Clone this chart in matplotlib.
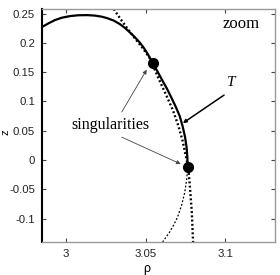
import numpy as np
import matplotlib
matplotlib.use("Agg")
import matplotlib.pyplot as plt

# solid curve
rho_solid = [2.9850, 2.9888, 2.9931, 2.9975, 3.0025, 3.0075, 3.0131, 3.0181,
             3.0225, 3.0263, 3.0300, 3.0338, 3.0370, 3.0400, 3.0431, 3.0463,
             3.0488, 3.0515, 3.0544, 3.0570, 3.0600, 3.0631, 3.0660, 3.0688,
             3.0713, 3.0731, 3.0746, 3.0756, 3.0761, 3.0763]
z_solid = [0.2270, 0.2330, 0.2389, 0.2430, 0.2457, 0.2471, 0.2474, 0.2466,
           0.2447, 0.2418, 0.2380, 0.2320, 0.2255, 0.2180, 0.2100, 0.2005,
           0.1915, 0.1800, 0.1655, 0.1530, 0.1380, 0.1229, 0.1070, 0.0910,
           0.0750, 0.0580, 0.0400, 0.0220, 0.0050, -0.0119]

# thin dotted continuation below the lower singularity
rho_tail = [3.0763, 3.0756, 3.0744, 3.0725, 3.0700, 3.0675, 3.0650, 3.0606]
z_tail = [-0.0119, -0.0350, -0.0563, -0.0770, -0.0973, -0.1110, -0.1230, -0.1400]

# thick dotted curve
rho_dot = [3.0300, 3.0325, 3.0356, 3.0388, 3.0431, 3.0481, 3.0525, 3.0552,
           3.0585, 3.0628, 3.0670, 3.0703, 3.0730, 3.0750, 3.0766, 3.0775,
           3.0788, 3.0797]
z_dot = [0.2577, 0.2474, 0.2355, 0.2235, 0.2082, 0.1911, 0.1740, 0.1570,
         0.1365, 0.1110, 0.0853, 0.0597, 0.0341, 0.0085, -0.0119, -0.0392,
         -0.0853, -0.1400]

# singular points
rho_sing = [3.0544, 3.0763]
z_sing = [0.1655, -0.0119]

# point T
rho_T = 3.0733
z_T = 0.063

fig = plt.figure(figsize=(2.8, 2.75), dpi=100)
ax = fig.add_axes([0.15, 0.12, 0.832, 0.8455])

ax.plot(rho_solid, z_solid, color="black", lw=1.6, solid_capstyle="round",
        solid_joinstyle="round")
ax.plot(rho_tail, z_tail, color="black", lw=0.9, ls=(0, (1.5, 1.5)))
ax.plot(rho_dot, z_dot, color="black", lw=1.7, ls=(0, (0.8, 1.0)))
ax.plot(rho_sing, z_sing, "o", color="black", ms=7)

serif = ["Liberation Serif", "DejaVu Serif"]
ax.text(3.0278, 0.0590, "singularities", family=serif, fontsize=11.5,
        ha="center", va="center")
arr = dict(arrowstyle="-|>", color="#444444", lw=0.6, mutation_scale=6,
           shrinkA=0, shrinkB=0)
ax.annotate("", xy=(3.0506, 0.1541), xytext=(3.0350, 0.0820), arrowprops=arr)
ax.annotate("", xy=(3.0719, -0.0068), xytext=(3.0350, 0.0390), arrowprops=arr)

ax.annotate("", xy=(rho_T, z_T), xytext=(3.0991, 0.1109),
            arrowprops=dict(arrowstyle="-|>", color="black", lw=1.1,
                            mutation_scale=5, shrinkA=0, shrinkB=0))
ax.text(3.1035, 0.1330, "T", family=serif, style="italic", fontsize=11,
        ha="center", va="center")
ax.text(3.1100, 0.2320, "zoom", family=serif, fontsize=12,
        ha="center", va="center")

ax.set_xlim(2.985, 3.131)
ax.set_ylim(-0.14, 0.257)
ax.set_xticks([3.0, 3.05, 3.1])
ax.set_xticklabels(["3", "3.05", "3.1"])
ax.set_yticks([-0.1, -0.05, 0, 0.05, 0.1, 0.15, 0.2, 0.25])
ax.set_yticklabels(["-0.1", "-0.05", "0", "0.05", "0.1", "0.15", "0.2", "0.25"])
ax.tick_params(direction="in", length=3, width=0.8, top=True, right=True,
               labelsize=8.2, pad=5, labelcolor="#222222", color="#444444")
for lab in ax.get_xticklabels() + ax.get_yticklabels():
    lab.set_family(["Liberation Sans", "DejaVu Sans"])

for side in ["top", "right", "bottom"]:
    ax.spines[side].set_color("#999999")
    ax.spines[side].set_linewidth(1.0)
ax.spines["left"].set_color("black")
ax.spines["left"].set_linewidth(1.5)

ax.text(0.45, -0.115, "ρ", transform=ax.transAxes, fontsize=9,
        family=["Liberation Sans", "DejaVu Sans"], ha="center", va="center")
ax.text(-0.157, 0.473, "z", transform=ax.transAxes, fontsize=8, rotation=90,
        family=["Liberation Sans", "DejaVu Sans"], ha="center", va="center")

fig.savefig("out.png", dpi=100)
